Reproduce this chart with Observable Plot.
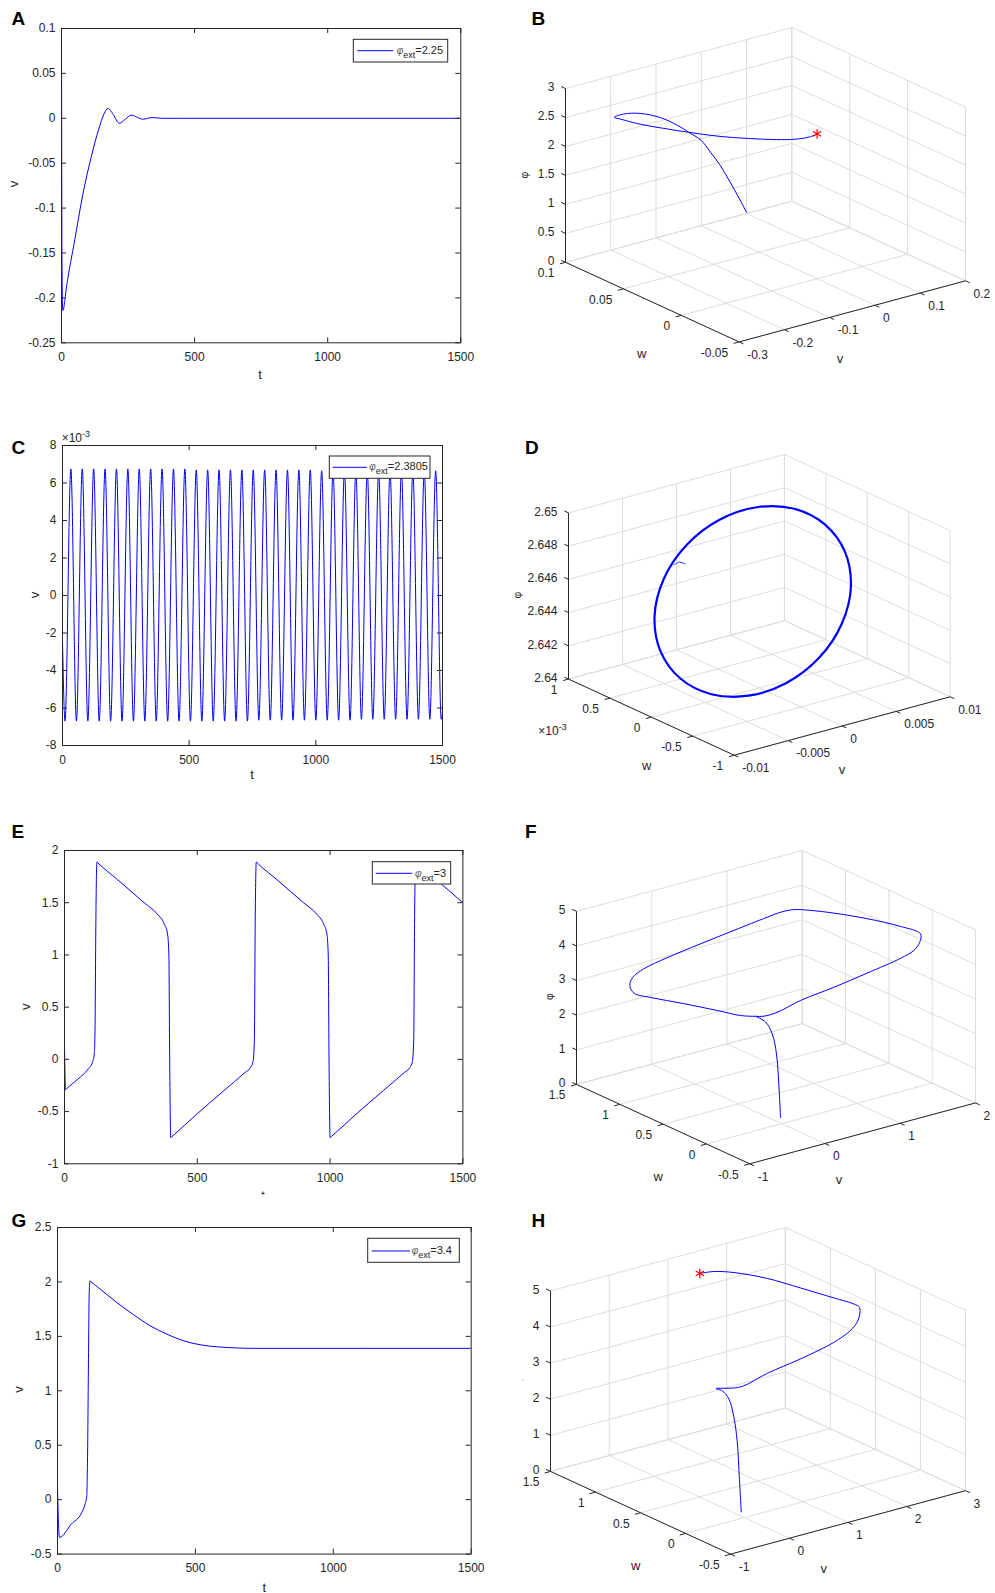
<!DOCTYPE html>
<html>
<head>
<meta charset="utf-8">
<script src="https://cdn.jsdelivr.net/npm/d3@7"></script>
<script src="https://cdn.jsdelivr.net/npm/@observablehq/plot@0.6"></script>
<style>
html,body{margin:0;padding:0;background:#fff;}
#fig{position:relative;width:995px;height:1593px;overflow:hidden;background:#fff;}
</style>
</head>
<body>
<div id="fig"></div>
<script>
// ================= DATA =================
// time ticks shared by A, C, E, G
const tTicks = [0, 500, 1000, 1500];

// Panel A : v(t), phi_ext = 2.25
const aT = [0, 2, 5, 20, 50, 80, 110, 140, 160, 175, 195, 217, 240, 262, 285, 305, 340, 380, 450, 1500];
const aV = [0.1, -0.17, -0.214, -0.185, -0.135, -0.085, -0.045, -0.012, 0.005, 0.011, 0.004, -0.0055, -0.001, 0.0035, 0.001, -0.001, 0.0008, 0, 0, 0];
const aYTicks = [-0.25, -0.2, -0.15, -0.1, -0.05, 0, 0.05, 0.1];

// Panel C : v(t) in units of 1e-3, phi_ext = 2.3805 (peaks and troughs)
const cT = [0, 10, 33, 55, 78, 100, 123, 145, 168, 190, 213, 235, 258, 280, 303, 325, 348, 370, 393, 415, 438, 460, 483, 505, 528, 550, 573, 595, 618, 640, 663, 685, 708, 730, 753, 775, 798, 820, 843, 865, 888, 910, 933, 955, 978, 1000, 1023, 1045, 1068, 1090, 1113, 1135, 1158, 1180, 1203, 1225, 1248, 1270, 1293, 1315, 1338, 1360, 1383, 1405, 1428, 1450, 1473, 1495, 1500];
const cV = [-2.4, -6.7, 6.75, -6.7, 6.75, -6.7, 6.75, -6.7, 6.75, -6.7, 6.75, -6.7, 6.75, -6.7, 6.75, -6.7, 6.75, -6.7, 6.75, -6.7, 6.75, -6.7, 6.75, -6.7, 6.7, -6.7, 6.7, -6.7, 6.7, -6.7, 6.7, -6.7, 6.7, -6.7, 6.7, -6.65, 6.7, -6.65, 6.7, -6.65, 6.7, -6.65, 6.7, -6.65, 6.7, -6.65, 6.65, -6.65, 6.65, -6.65, 6.65, -6.65, 6.65, -6.6, 6.65, -6.6, 6.65, -6.6, 6.65, -6.6, 6.65, -6.6, 6.65, -6.6, 6.65, -6.6, 6.65, -6.6, -6.2];
const cYTicks = [-8, -6, -4, -2, 0, 2, 4, 6, 8];

// Panel E : v(t), phi_ext = 3
const eT = [0, 4, 8, 50, 90, 105, 112, 115, 118, 122, 126, 200, 300, 350, 375, 388, 393, 396, 400, 405, 500, 600, 680, 700, 710, 715, 718, 722, 726, 800, 900, 950, 975, 988, 993, 996, 1000, 1005, 1100, 1200, 1280, 1300, 1310, 1315, 1318, 1322, 1326, 1400, 1500];
const eV = [0.12, -0.29, -0.28, -0.19, -0.09, -0.03, 0.05, 0.3, 1.3, 1.89, 1.88, 1.72, 1.5, 1.39, 1.3, 1.2, 1.0, 0, -0.75, -0.739, -0.52, -0.3, -0.125, -0.08, -0.02, 0.2, 1.3, 1.89, 1.88, 1.72, 1.5, 1.39, 1.3, 1.2, 1.0, 0, -0.75, -0.739, -0.52, -0.3, -0.125, -0.08, -0.02, 0.2, 1.3, 1.89, 1.88, 1.72, 1.5];
const eYTicks = [-1, -0.5, 0, 0.5, 1, 1.5, 2];

// Panel G : v(t), phi_ext = 3.4
const gT = [0, 7, 50, 88, 100, 106, 109, 112, 115, 118, 121, 155, 215, 276, 336, 397, 457, 517, 578, 638, 700, 1500];
const gV = [0.1, -0.347, -0.225, -0.117, -0.04, 0.03, 0.4, 1.2, 1.9, 2.01, 2.003, 1.934, 1.811, 1.698, 1.597, 1.520, 1.459, 1.423, 1.404, 1.395, 1.39, 1.39];
const gYTicks = [-0.5, 0, 0.5, 1, 1.5, 2, 2.5];

const legendValues = ["2.25", "2.3805", "3", "3.4"];

// Panel B : trajectory (v, w, phi), phi_ext = 2.25
const bV   = [0.10, 0.00, -0.08, -0.14, -0.18, -0.20, -0.21, -0.21, -0.20, -0.19, -0.20, -0.20, -0.19, -0.16, -0.13, -0.10, -0.07, -0.04, -0.015, -0.005, 0];
const bW   = [0.100, 0.068, 0.044, 0.029, 0.022, 0.022, 0.029, 0.039, 0.057, 0.078, 0.089, 0.097, 0.096, 0.090, 0.082, 0.072, 0.059, 0.042, 0.017, 0.005, 0];
const bPhi = [0.02, 0.79, 1.44, 1.99, 2.37, 2.61, 2.71, 2.74, 2.68, 2.54, 2.45, 2.32, 2.28, 2.18, 2.12, 2.08, 2.07, 2.12, 2.28, 2.41, 2.50];
const bVTicks = [-0.3, -0.2, -0.1, 0, 0.1, 0.2];
const bWTicks = [-0.05, 0, 0.05, 0.1];
const bPTicks = [0, 0.5, 1, 1.5, 2, 2.5, 3];

// Panel D : limit cycle (v, w in 1e-3, phi), phi_ext = 2.3805
const dV   = [0.0067, 0.00619, 0.00474, 0.00256, 0, -0.00256, -0.00474, -0.00619, -0.0067, -0.00619, -0.00474, -0.00256, 0, 0.00256, 0.00474, 0.00619];
const dW   = [0.080, -0.227, -0.487, -0.660, -0.721, -0.660, -0.487, -0.227, 0.080, 0.387, 0.647, 0.820, 0.881, 0.820, 0.647, 0.387];
const dPhi = [2.64847, 2.64762, 2.64636, 2.64491, 2.64346, 2.64226, 2.64148, 2.64123, 2.64156, 2.64242, 2.64367, 2.64513, 2.64657, 2.64778, 2.64856, 2.64881];
const dTailV   = [-0.00073, -0.00128, -0.00150];
const dTailW   = [0.80, 0.80, 0.84];
const dTailPhi = [2.64576, 2.64596, 2.64573];
const dVTicks = [-0.01, -0.005, 0, 0.005, 0.01];
const dWTicks = [-1, -0.5, 0, 0.5, 1];
const dPTicks = [2.64, 2.642, 2.644, 2.646, 2.648, 2.65];

// Panel F : limit cycle + transient, phi_ext = 3
const fV   = [-0.19, -0.01, 0.30, 0.74, 1.18, 1.63, 1.80, 1.88, 1.89, 1.82, 1.72, 1.60, 1.50, 1.38, 1.23, 1.05, 0.61, 0.16, -0.28, -0.59, -0.74, -0.775, -0.73, -0.68, -0.57, -0.45, -0.33, -0.25];
const fW   = [0.04, 0.04, 0.04, 0.04, 0.04, 0.04, 0.04, 0.04, 0.04, 0.21, 0.51, 0.79, 0.97, 1.06, 1.08, 1.08, 1.08, 1.08, 1.08, 1.08, 1.08, 1.08, 1.07, 0.92, 0.64, 0.35, 0.19, 0.085];
const fPhi = [3.17, 3.18, 3.34, 3.46, 3.61, 3.78, 3.90, 4.09, 4.33, 4.39, 4.33, 4.24, 4.17, 4.16, 4.15, 4.11, 3.99, 3.86, 3.72, 3.58, 3.41, 3.21, 2.97, 2.99, 3.07, 3.13, 3.10, 3.15];
const fTrV   = [0.10, 0.065, 0.023, -0.057, -0.157, -0.25];
const fTrW   = [0.10, 0.09, 0.08, 0.06, 0.05, 0.085];
const fTrPhi = [0.00, 1.01, 1.91, 2.56, 2.97, 3.15];
const fVTicks = [-1, 0, 1, 2];
const fWTicks = [-0.5, 0, 0.5, 1, 1.5];
const fPTicks = [0, 1, 2, 3, 4, 5];

// Panel H : trajectory to fixed point, phi_ext = 3.4
const hV   = [0.10, 0.05, 0.00, -0.07, -0.17, -0.27, -0.36, -0.09, 0.05, 0.44, 1.00, 1.57, 1.85, 1.98, 2.01, 1.98, 1.90, 1.80, 1.65, 1.50, 1.42, 1.39];
const hW   = [0.10, 0.09, 0.08, 0.07, 0.06, 0.07, 0.08, 0.06, 0.04, 0.03, 0.03, 0.03, 0.03, 0.03, 0.03, 0.075, 0.245, 0.55, 0.82, 1.09, 1.26, 1.40];
const hPhi = [0.00, 1.08, 2.04, 2.72, 3.29, 3.55, 3.64, 3.56, 3.58, 3.77, 3.92, 4.13, 4.33, 4.55, 4.90, 4.96, 4.97, 4.94, 4.96, 4.88, 4.75, 4.55];
const hVTicks = [-1, 0, 1, 2, 3];
const hWTicks = [-0.5, 0, 0.5, 1, 1.5];
const hPTicks = [0, 1, 2, 3, 4, 5];

// ================= STYLE / HELPERS =================
const FONT = '"Liberation Sans", Arial, Helvetica, sans-serif';
const INK = "#262626";
const BLUE = "#0000ff";
const GRID = "#dcdcdc";
const fig = document.getElementById("fig");
const fmt = d => String(d);

function place(svg, x, y) {
  svg.style.position = "absolute";
  svg.style.left = x + "px";
  svg.style.top = y + "px";
  fig.appendChild(svg);
}

function timePanel(o) {
  const mL = 55, mR = 15, mT = 15, mB = 35;
  const iw = o.right - o.left, ih = o.bottom - o.top;
  const rows = o.t.map((t, i) => ({t, v: o.v[i]}));
  const svg = Plot.plot({
    width: iw + mL + mR, height: ih + mT + mB,
    marginLeft: mL, marginRight: mR, marginTop: mT, marginBottom: mB,
    x: {domain: [o.xTicks[0], o.xTicks[o.xTicks.length - 1]]},
    y: {domain: [o.yTicks[0], o.yTicks[o.yTicks.length - 1]]},
    style: {fontFamily: FONT, fontSize: "12px", color: INK, background: "transparent", overflow: "visible"},
    marks: [
      Plot.line(rows, {x: "t", y: "v", stroke: BLUE, strokeWidth: 1, curve: "monotone-x", clip: true}),
      Plot.tickX(o.xTicks, {x: d => d, stroke: INK, insetTop: ih - 5}),
      Plot.tickX(o.xTicks, {x: d => d, stroke: INK, insetBottom: ih - 5}),
      Plot.tickY(o.yTicks, {y: d => d, stroke: INK, insetRight: iw - 5}),
      Plot.tickY(o.yTicks, {y: d => d, stroke: INK, insetLeft: iw - 5}),
      Plot.frame({stroke: INK, strokeWidth: 1}),
      Plot.axisX(o.xTicks, {anchor: "bottom", tickSize: 0, tickPadding: 9.5, tickFormat: fmt, label: null}),
      Plot.axisY(o.yTicks, {anchor: "left", tickSize: 0, tickPadding: 6, tickFormat: fmt, label: null})
    ]
  });
  place(svg, o.left - mL, o.top - mT);
}

// MATLAB default 3-D view
const AZ = -37.5 * Math.PI / 180, EL = 30 * Math.PI / 180;
const cA = Math.cos(AZ), sA = Math.sin(AZ), cE = Math.cos(EL), sE = Math.sin(EL);
function project(X, Y, Z) {
  return {sx: cA * X + sA * Y, sy: -sE * sA * X + sE * cA * Y + cE * Z};
}

function spacePanel(o) {
  const mL = 60, mR = 45, mT = 10, mB = 40;
  const [L, R, T, B] = o.box;
  const v0 = o.vTicks[0], v1 = o.vTicks[o.vTicks.length - 1];
  const w0 = o.wTicks[0], w1 = o.wTicks[o.wTicks.length - 1];
  const p0 = o.pTicks[0], p1 = o.pTicks[o.pTicks.length - 1];
  const P = (v, w, p) => project((v - v0) / (v1 - v0) - 0.5, (w - w0) / (w1 - w0) - 0.5, (p - p0) / (p1 - p0) - 0.5);
  const corners = [];
  for (const v of [v0, v1]) for (const w of [w0, w1]) for (const p of [p0, p1]) corners.push(P(v, w, p));
  const xDom = d3.extent(corners, d => d.sx), yDom = d3.extent(corners, d => d.sy);
  const seg = (a, b) => ({x1: a.sx, y1: a.sy, x2: b.sx, y2: b.sy});
  const grid = [];
  for (const v of o.vTicks) { grid.push(seg(P(v, w0, p0), P(v, w1, p0))); grid.push(seg(P(v, w1, p0), P(v, w1, p1))); }
  for (const w of o.wTicks) { grid.push(seg(P(v0, w, p0), P(v1, w, p0))); grid.push(seg(P(v1, w, p0), P(v1, w, p1))); }
  for (const p of o.pTicks) { grid.push(seg(P(v0, w1, p), P(v1, w1, p))); grid.push(seg(P(v1, w0, p), P(v1, w1, p))); }
  const tl = 0.025;
  const dark = [
    seg(P(v0, w0, p0), P(v1, w0, p0)),
    seg(P(v0, w0, p0), P(v0, w1, p0)),
    seg(P(v0, w1, p0), P(v0, w1, p1)),
    ...o.vTicks.map(v => seg(P(v, w0, p0), P(v, w0 - tl * (w1 - w0), p0))),
    ...o.wTicks.map(w => seg(P(v0, w, p0), P(v0 - tl * (v1 - v0), w, p0))),
    ...o.pTicks.map(p => seg(P(v0, w1, p), P(v0, w1 + tl * (w1 - w0), p)))
  ];
  const vLab = o.vTicks.map(v => ({...P(v, w0, p0), text: fmt(v)}));
  const wLab = o.wTicks.map(w => ({...P(v0, w, p0), text: fmt(w)}));
  const pLab = o.pTicks.map(p => ({...P(v0, w1, p), text: fmt(p)}));
  const lineMarks = o.curves.map(c => {
    const pts = c.v.map((v, i) => P(v, c.w[i], c.p[i]));
    return Plot.line(pts, {x: "sx", y: "sy", stroke: BLUE, strokeWidth: c.width, curve: c.closed ? "catmull-rom-closed" : "catmull-rom"});
  });
  const marks = [
    Plot.link(grid, {x1: "x1", y1: "y1", x2: "x2", y2: "y2", stroke: GRID, strokeWidth: 1}),
    Plot.link(dark, {x1: "x1", y1: "y1", x2: "x2", y2: "y2", stroke: INK, strokeWidth: 1}),
    Plot.text(vLab, {x: "sx", y: "sy", text: "text", dx: 8, dy: 13, textAnchor: "start"}),
    Plot.text(wLab, {x: "sx", y: "sy", text: "text", dx: -11, dy: 11, textAnchor: "end"}),
    Plot.text(pLab, {x: "sx", y: "sy", text: "text", dx: -11, dy: -1, textAnchor: "end"}),
    ...lineMarks
  ];
  if (o.star) {
    const c = o.curves[0], n = c.v.length - 1;
    marks.push(Plot.dot([P(c.v[n], c.w[n], c.p[n])], {x: "sx", y: "sy", symbol: "asterisk", stroke: "#ff0000", strokeWidth: 1.2, r: 4.5}));
  }
  const svg = Plot.plot({
    width: R - L + mL + mR, height: B - T + mT + mB,
    marginLeft: mL, marginRight: mR, marginTop: mT, marginBottom: mB,
    x: {domain: xDom, axis: null}, y: {domain: yDom, axis: null},
    style: {fontFamily: FONT, fontSize: "12px", color: INK, background: "transparent", overflow: "visible"},
    marks
  });
  place(svg, L - mL, T - mT);
}

// ================= PANELS =================
timePanel({left: 60.7, top: 27.7, right: 460, bottom: 342, t: aT, v: aV, xTicks: tTicks, yTicks: aYTicks});
timePanel({left: 61.7, top: 445, right: 441.7, bottom: 745, t: cT, v: cV, xTicks: tTicks, yTicks: cYTicks});
timePanel({left: 64.3, top: 850, right: 462.7, bottom: 1163.3, t: eT, v: eV, xTicks: tTicks, yTicks: eYTicks});
timePanel({left: 57.3, top: 1226.7, right: 471, bottom: 1553.3, t: gT, v: gV, xTicks: tTicks, yTicks: gYTicks});

spacePanel({box: [565, 965, 27.3, 341.7], vTicks: bVTicks, wTicks: bWTicks, pTicks: bPTicks,
  curves: [{v: bV, w: bW, p: bPhi, width: 1}], star: true});
spacePanel({box: [568.3, 950, 454.3, 755], vTicks: dVTicks, wTicks: dWTicks, pTicks: dPTicks,
  curves: [{v: dV, w: dW, p: dPhi, width: 2.2, closed: true}, {v: dTailV, w: dTailW, p: dTailPhi, width: 0.8}]});
spacePanel({box: [576, 975, 850, 1163.3], vTicks: fVTicks, wTicks: fWTicks, pTicks: fPTicks,
  curves: [{v: fV, w: fW, p: fPhi, width: 1, closed: true}, {v: fTrV, w: fTrW, p: fTrPhi, width: 1}]});
spacePanel({box: [550, 965, 1226.7, 1553.3], vTicks: hVTicks, wTicks: hWTicks, pTicks: hPTicks,
  curves: [{v: hV, w: hW, p: hPhi, width: 1}], star: true});

// ================= OVERLAY TEXT =================
const ov = d3.select(fig).append("svg")
  .attr("width", 995).attr("height", 1593)
  .style("position", "absolute").style("left", "0px").style("top", "0px")
  .attr("font-family", FONT);

function label(txt, x, y, opt = {}) {
  const {size = 13, anchor = "middle", rotate = false, weight = "normal", fill = INK} = opt;
  const t = ov.append("text").attr("x", x).attr("y", y).attr("text-anchor", anchor)
    .attr("font-size", size).attr("font-weight", weight).attr("fill", fill).text(txt);
  if (rotate) t.attr("transform", `rotate(-90 ${x} ${y})`);
  return t;
}

// panel letters
[["A", 11.5, 25.3], ["B", 531.5, 25.3], ["C", 11.5, 453.5], ["D", 525, 453.5],
 ["E", 11.5, 837.5], ["F", 525, 837.8], ["G", 11.5, 1226.8], ["H", 531.5, 1227.3]]
  .forEach(([s, x, y]) => label(s, x, y, {size: 19, anchor: "start", weight: "bold", fill: "#000"}));

// 2-D axis labels
label("t", 260, 379);
label("v", 18.3, 184, {rotate: true});
label("t", 252, 779.3);
label("v", 39.3, 595, {rotate: true});
ov.append("clipPath").attr("id", "clipEt").append("rect").attr("x", 250).attr("y", 1185).attr("width", 30).attr("height", 9.5);
label("t", 263, 1200).attr("clip-path", "url(#clipEt)");
label("v", 30, 1006.7, {rotate: true});
label("t", 264.3, 1591.5);
label("v", 23.3, 1389.5, {rotate: true});

// 3-D axis labels
label("v", 840, 363.3); label("w", 641.7, 358.3); label("φ", 528.3, 175, {size: 10.5, rotate: true});
label("v", 842, 774);   label("w", 646.7, 770);   label("φ", 520.7, 595, {size: 10.5, rotate: true});
label("v", 839, 1183.5); label("w", 658.3, 1180.5); label("φ", 552.6, 996.7, {size: 10.5, rotate: true});
label("v", 823.8, 1573.3); label("w", 635.8, 1570); label("'", 523, 1384, {size: 8, fill: "#888"});

// x10^-3 multipliers
function sci(x, y) {
  const t = ov.append("text").attr("x", x).attr("y", y).attr("font-size", 12).attr("fill", INK);
  t.append("tspan").text("×10");
  t.append("tspan").text("-3").attr("dy", -5).attr("font-size", 9);
}
sci(61.7, 441.7);
sci(538.3, 735);

// legends
function legend(box, line, textX, baseY, value) {
  const g = ov.append("g");
  g.append("rect").attr("x", box[0]).attr("y", box[1]).attr("width", box[2]).attr("height", box[3])
    .attr("fill", "#fff").attr("stroke", INK).attr("stroke-width", 1);
  g.append("line").attr("x1", line[0]).attr("x2", line[1]).attr("y1", line[2]).attr("y2", line[2])
    .attr("stroke", BLUE).attr("stroke-width", 1);
  const t = g.append("text").attr("x", textX).attr("y", baseY).attr("fill", INK).attr("font-size", 11);
  t.append("tspan").text("φ").attr("font-size", 10).attr("font-style", "italic").attr("fill", "#555");
  t.append("tspan").text("ext").attr("dy", 4).attr("font-size", 9);
  t.append("tspan").text("=" + value).attr("dy", -4);
}
legend([353.3, 39.3, 94.4, 22.7], [357.3, 393.3, 50.7], 396.7, 53.5, legendValues[0]);
legend([329.3, 456, 100.7, 22.3], [332.7, 366.7, 467.3], 369.3, 469.5, legendValues[1]);
legend([372.3, 861.7, 78.4, 22.3], [375.7, 412.3, 873.3], 415, 876.5, legendValues[2]);
legend([367.7, 1238.3, 91.6, 24], [371.7, 410, 1251], 411.7, 1254, legendValues[3]);
</script>
</body>
</html>
